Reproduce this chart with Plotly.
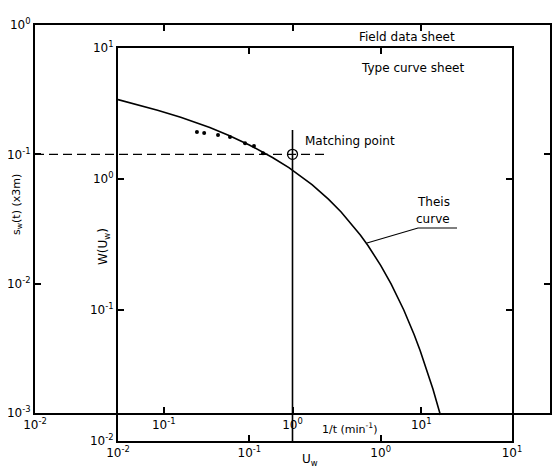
import plotly.graph_objects as go

# ---------------- data ----------------
# Field data sheet (outer): 1/t (min^-1) vs drawdown s_w(t)
inv_t = [0.181, 0.206, 0.264, 0.327, 0.428, 0.502, 0.590]
drawdown = [0.149, 0.146, 0.141, 0.136, 0.122, 0.116, 0.102]

# Matching point (field sheet coordinates)
match_inv_t = [1.0]
match_s = [0.1]
match_line_x = [0.01, 1.9]
match_line_s = [0.1, 0.1]

# Theis type curve (inner sheet): W(u_w) vs u_w
u_w = [0.01, 0.015, 0.02, 0.03, 0.04, 0.05, 0.07, 0.1, 0.15, 0.2, 0.3, 0.4,
       0.5, 0.6, 0.7, 0.8, 1.0, 1.2, 1.5, 1.8, 2.0, 2.5, 2.85]
W_u = [4.04, 3.64, 3.35, 2.96, 2.68, 2.47, 2.15, 1.82, 1.46, 1.22, 0.906, 0.702,
       0.560, 0.454, 0.374, 0.311, 0.219, 0.158, 0.100, 0.0647, 0.0489, 0.0249, 0.0158]

# tick labels
outer_x_vals = [0.01, 0.1, 1, 10, 100]
outer_x_text = ["10<sup>-2</sup>", "10<sup>-1</sup>", "10<sup>0</sup>", "10<sup>1</sup>", "10<sup>2</sup>"]
outer_y_vals = [0.001, 0.01, 0.1, 1]
outer_y_text = ["10<sup>-3</sup>", "10<sup>-2</sup>", "10<sup>-1</sup>", "10<sup>0</sup>"]
inner_x_vals = [0.01, 0.1, 1, 10]
inner_x_text = ["10<sup>-2</sup>", "10<sup>-1</sup>", "10<sup>0</sup>", "10<sup>1</sup>"]
inner_y_vals = [0.01, 0.1, 1, 10]
inner_y_text = ["10<sup>-2</sup>", "10<sup>-1</sup>", "10<sup>0</sup>", "10<sup>1</sup>"]

# ---------------- layout helpers ----------------
# the page body has an 8px margin, so the figure is 552x461 placed at (8, 8)
OFF = 8
W, H = 560 - OFF, 469 - OFF
FONT = "DejaVu Sans"


def px(x):
    return (x - OFF) / W


def py(y):
    return 1 - (y - OFF) / H


fig = go.Figure()

# Theis curve on the type-curve sheet
fig.add_trace(go.Scatter(x=u_w, y=W_u, xaxis="x2", yaxis="y2", mode="lines",
                         line=dict(color="black", width=1.6), showlegend=False,
                         hoverinfo="skip"))

# Field data
fig.add_trace(go.Scatter(x=inv_t, y=drawdown, mode="markers",
                         marker=dict(color="black", size=4), showlegend=False))

# Matching line (dashed) and point
fig.add_trace(go.Scatter(x=match_line_x, y=match_line_s, mode="lines",
                         line=dict(color="black", width=1.3, dash="9px,5px"),
                         showlegend=False, hoverinfo="skip"))
fig.add_trace(go.Scatter(x=match_inv_t, y=match_s, mode="markers",
                         marker=dict(symbol="circle-open", color="black", size=10,
                                     line=dict(width=1.3)),
                         showlegend=False))

axis_common = dict(type="log", showline=True, linecolor="black", linewidth=2,
                   mirror="ticks", ticks="inside", ticklen=6, tickwidth=1.5,
                   tickcolor="black", showgrid=False, zeroline=False,
                   automargin=False,
                   tickfont=dict(family=FONT, size=12, color="black"))

fig.update_layout(
    template="none",
    width=W, height=H,
    margin=dict(l=0, r=0, t=0, b=0, pad=0),
    paper_bgcolor="white", plot_bgcolor="rgba(0,0,0,0)",
    showlegend=False,
    xaxis=dict(axis_common, domain=[px(35), px(550)], range=[-2, 2],
               tickvals=outer_x_vals, ticktext=outer_x_text, anchor="y"),
    yaxis=dict(axis_common, domain=[py(413), py(25)], range=[-3, 0],
               tickvals=outer_y_vals, ticktext=outer_y_text, anchor="x"),
    xaxis2=dict(axis_common, domain=[px(118), px(512)], range=[-2, 1],
                tickvals=inner_x_vals, ticktext=inner_x_text, anchor="y2"),
    yaxis2=dict(axis_common, domain=[py(441), py(48)], range=[-2, 1],
                tickvals=inner_y_vals, ticktext=inner_y_text, anchor="x2"),
)

# vertical line through matching point (1/t = 1) down to the type-curve axis
fig.add_shape(type="line", xref="x", yref="paper", x0=1, x1=1,
              y0=py(441), y1=py(130), line=dict(color="black", width=1.6))

# leader line for the Theis curve label
fig.add_shape(type="path", xref="paper", yref="paper",
              path=f"M {px(367)} {py(243)} L {px(418)} {py(228)} L {px(457)} {py(228)}",
              line=dict(color="black", width=1.2))


def note(text, x, y, size=12, angle=0, xanchor="center"):
    fig.add_annotation(text=text, x=px(x), y=py(y), xref="paper", yref="paper",
                       showarrow=False, textangle=angle, xanchor=xanchor,
                       yanchor="middle",
                       font=dict(family=FONT, size=size, color="black"))


note("Field data sheet", 407, 37)
note("Type curve sheet", 412, 68)
note("Matching point", 303, 141, xanchor="left")
note("Theis", 433, 202)
note("curve", 433, 219)
note("s<sub>w</sub>(t) (x3m)", 17, 205, size=11, angle=-90)
note("W(U<sub>w</sub>)", 104, 247, angle=-90)
note("1/t (min<sup>-1</sup>)", 350, 428, size=11)
note("U<sub>w</sub>", 310, 460)

fig.write_html("out.html")
